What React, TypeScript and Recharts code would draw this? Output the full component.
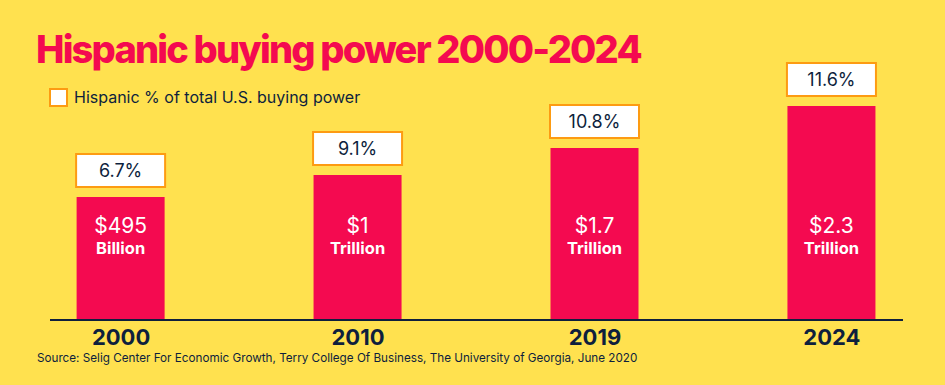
import { Bar, BarChart, LabelList, XAxis, YAxis } from "recharts";

const years = ["2000", "2010", "2019", "2024"];
const amounts = ["$495", "$1", "$1.7", "$2.3"];
const units = ["Billion", "Trillion", "Trillion", "Trillion"];
const shares = ["6.7%", "9.1%", "10.8%", "11.6%"];
// drawn bar heights as shown in the graphic (not to scale with the dollar values)
const barLevels = [123, 145, 172, 214];

const data = years.map((year, i) => ({
  idx: i,
  year,
  amount: amounts[i],
  unit: units[i],
  share: shares[i],
  level: barLevels[i],
}));

const BG = "#FFE14F";
const RED = "#F40A50";
const NAVY = "#0E1F3D";
const ORANGE = "#FD9B12";
const FONT = "Inter, 'Noto Sans', sans-serif";

if (typeof document !== "undefined") document.body.style.margin = "0";

function ShareBox(props: any) {
  const { x, y, width, value } = props;
  return (
    <g>
      <rect x={x - 0.5} y={y - 43} width={width + 1} height={33} fill="#fff" stroke={ORANGE} strokeWidth={2} />
      <text x={x + width / 2} y={y - 20} textAnchor="middle" fill={NAVY} fontSize={18} fontFamily={FONT}>
        {value}
      </text>
    </g>
  );
}

function AmountLabel(props: any) {
  const { x, y, width, height, index } = props;
  const bottom = y + height;
  return (
    <g>
      <text x={x + width / 2} y={bottom - 87} textAnchor="middle" fill="#fff" fontSize={21} fontFamily={FONT}>
        {amounts[index]}
      </text>
      <text x={x + width / 2} y={bottom - 66} textAnchor="middle" fill="#fff" fontSize={16.5} fontWeight={700} fontFamily={FONT}>
        {units[index]}
      </text>
    </g>
  );
}

export default function App() {
  return (
    <div style={{ position: "relative", width: 945, height: 385, background: BG, overflow: "hidden" }}>
      <div
        style={{
          position: "absolute",
          left: 36,
          top: 24,
          fontFamily: FONT,
          fontWeight: 800,
          fontSize: 38,
          letterSpacing: -1.8,
          color: RED,
          whiteSpace: "nowrap",
          lineHeight: "50px",
        }}
      >
        Hispanic buying power 2000-2024
      </div>
      <div
        style={{
          position: "absolute",
          left: 49,
          top: 87,
          display: "flex",
          alignItems: "center",
          fontFamily: FONT,
          fontSize: 16,
          color: NAVY,
          whiteSpace: "nowrap",
        }}
      >
        <span style={{ width: 15, height: 15, background: "#fff", border: `2px solid ${ORANGE}`, marginRight: 6 }} />
        Hispanic % of total U.S. buying power
      </div>
      <BarChart width={945} height={385} data={data} margin={{ top: 50, right: 42, bottom: 0, left: 50 }}>
        <XAxis
          dataKey="idx"
          type="number"
          domain={[-0.3, 3.3]}
          ticks={[0, 1, 2, 3]}
          tickFormatter={(v: number) => years[v]}
          axisLine={{ stroke: NAVY, strokeWidth: 2 }}
          tickLine={false}
          tickMargin={3}
          tick={{ fill: NAVY, fontSize: 22, fontWeight: 700, fontFamily: FONT }}
          height={65}
        />
        <YAxis hide domain={[0, 270]} />
        <Bar dataKey="level" fill={RED} barSize={88} isAnimationActive={false}>
          <LabelList dataKey="share" content={ShareBox} />
          <LabelList dataKey="amount" content={AmountLabel} />
        </Bar>
      </BarChart>
      <div
        style={{
          position: "absolute",
          left: 37,
          top: 351,
          fontFamily: FONT,
          fontSize: 11.7,
          color: NAVY,
          whiteSpace: "nowrap",
        }}
      >
        Source: Selig Center For Economic Growth, Terry College Of Business, The University of Georgia, June 2020
      </div>
    </div>
  );
}
